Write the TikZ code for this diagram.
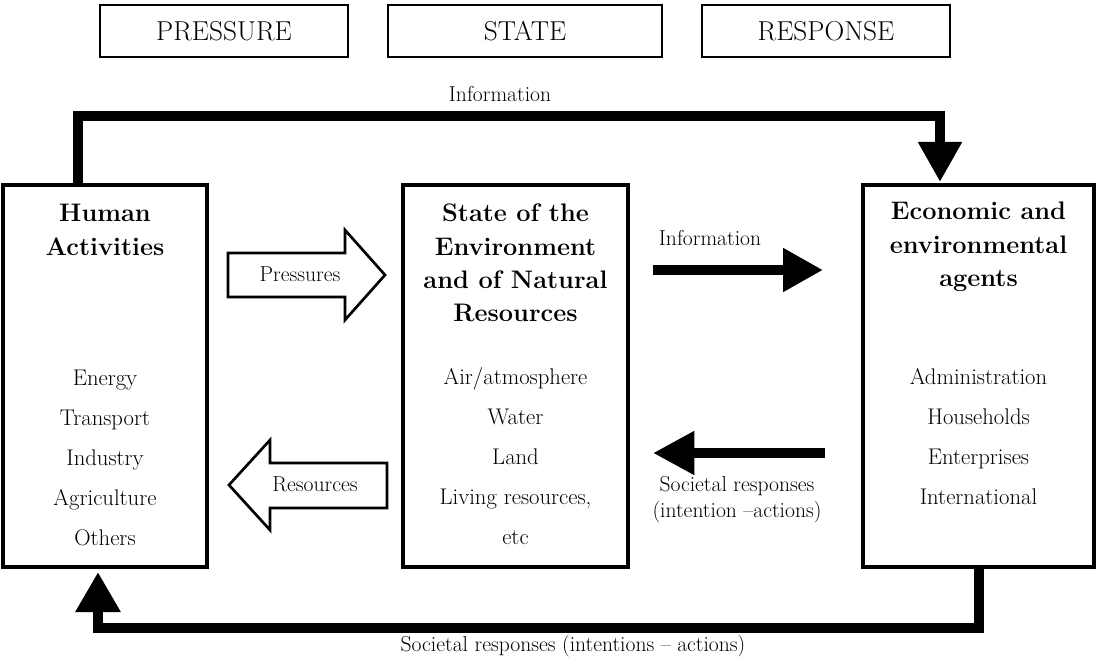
\documentclass[tikz,border=0pt]{standalone}
\usetikzlibrary{arrows.meta,calc}
\newdimen\pxu \pxu=0.75pt
\begin{document}
\begin{tikzpicture}[x=0.75pt,y=-0.75pt,
  box/.style={draw, line width=2.3pt, inner sep=0pt, outer sep=0pt},
  hdr/.style={draw, line width=1.9pt, inner sep=0pt, outer sep=0pt,
    minimum height=52\pxu, font=\fontsize{20.5}{24}\selectfont},
  title/.style={align=center, font=\bfseries\fontsize{19}{25}\selectfont},
  items/.style={align=center, font=\fontsize{17}{30}\selectfont},
  lab/.style={align=center, font=\fontsize{16.2}{19.5}\selectfont},
  flow/.style={line width=7.5pt, line join=miter,
    -{Triangle[length=30pt,width=31pt]}},
  flowb/.style={line width=7.5pt, line join=miter,
    -{Triangle[length=30pt,width=32pt]}},
  hollow/.style={draw, line width=2pt, fill=white, line join=miter}]

\useasboundingbox (0,0) rectangle (1098,666);

% header boxes
\node[hdr, minimum width=248\pxu] (hp) at (224,31) {PRESSURE};
\node[hdr, minimum width=274\pxu] (hs) at (525,31) {STATE};
\node[hdr, minimum width=248\pxu] (hr) at (826,31) {RESPONSE};

% main boxes
\node[box, minimum width=204\pxu, minimum height=382\pxu] (human)  at (105,376) {};
\node[box, minimum width=225\pxu, minimum height=382\pxu] (state)  at (515.5,376) {};
\node[box, minimum width=231\pxu, minimum height=382\pxu] (agents) at (978.5,376) {};

% box contents
\node[title] (humant) at (105,230) {Human\\Activities};
\node[items] (humanl) at (105,457.5) {Energy\\Transport\\Industry\\Agriculture\\Others};

\node[title] (statet) at (515.5,263) {State of the\\Environment\\and of Natural\\Resources};
\node[items] (statel) at (515.5,456.5) {Air/atmosphere\\Water\\Land\\Living resources,\\etc};

\node[title] (agentst) at (978.5,247) {Economic and\\environmental\\agents};
\node[items] (agentsl) at (978.5,437) {Administration\\Households\\Enterprises\\International};

% hollow arrows between human activities and the state
\draw[hollow] (228,253) -- (345,253) -- (345,230) -- (385,275)
  -- (345,320) -- (345,297) -- (228,297) -- cycle;
\node[lab] (pres) at (300,274) {Pressures};

\draw[hollow] (387,463) -- (270,463) -- (270,440) -- (229,485)
  -- (270,530) -- (270,508) -- (387,508) -- cycle;
\node[lab] (reso) at (315,484) {Resources};

% information from the state to the agents
\coordinate (infoa) at (653,270);
\coordinate (infob) at (823,270);
\draw[flow] (infoa) -- (infob);
\node[lab] (infol) at (710,238) {Information};

% responses from the agents to the state
\coordinate (resa) at (825,453);
\coordinate (resb) at (653,453);
\draw[line width=7.5pt, -{Triangle[length=31pt,width=31pt]}] (resa) -- (resb);
\node[lab] (resl) at (737,500) {Societal responses\\(intention --actions)};

% outer loop: information on top
\draw[flow] ([xshift=75\pxu]human.north west) -- ++(0,-69)
  -| ([xshift=77\pxu,yshift=3\pxu]agents.north west);
\node[lab] (topl) at (500,94) {Information};

% outer loop: responses at the bottom
\draw[flowb] (agents.south) -- ++(0,61)
  -| ([xshift=95\pxu,yshift=-5\pxu]human.south west);
\node[lab] (botl) at (573,646) {Societal responses (intentions -- actions)};
\end{tikzpicture}
\end{document}
